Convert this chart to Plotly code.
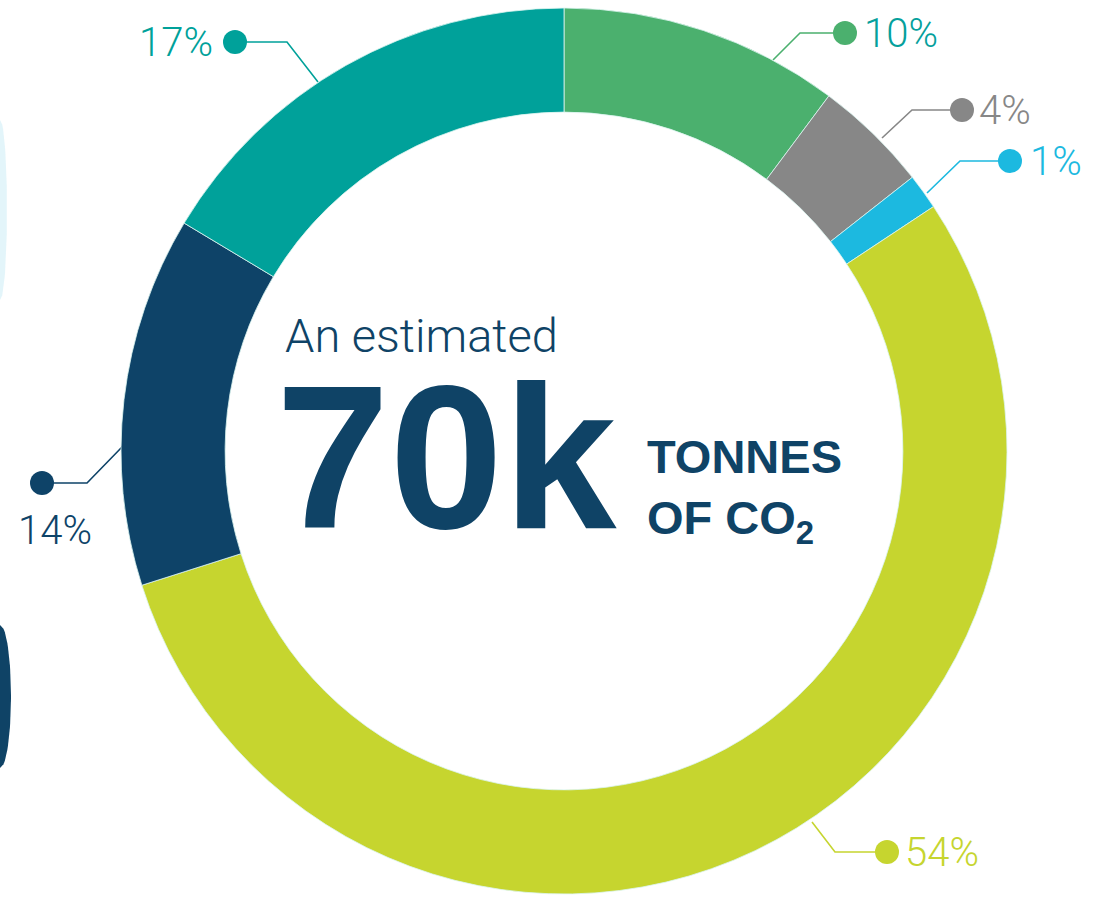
import numpy as np
import plotly.graph_objects as go

# ---- data ----
categories = ["Green", "Grey", "Light blue", "Lime", "Navy", "Teal"]
shares = [10.2, 4.2, 1.3, 54.4, 13.5, 16.4]          # slice sizes
pct_labels = ["10%", "4%", "1%", "54%", "14%", "17%"]  # printed labels
colors = ["#4BB06E", "#878787", "#1CB9E0", "#C6D52F", "#0E4368", "#00A19A"]
text_colors = ["#05A09C", "#878787", "#1CB9E0", "#C6D52F", "#0E4368", "#00A19A"]

W, H = 1095, 897
NAVY = "#0F4366"

# ---- label layout (pixel positions of leader lines / dots / text) ----
label_layout = {
    "10%": dict(path=[(773, 60), (800, 33), (845, 33)], text=(862, 33), anchor="left"),
    "4%": dict(path=[(882, 138), (912, 110), (962, 110)], text=(977, 110), anchor="left"),
    "1%": dict(path=[(927, 193), (960, 161), (1010, 161)], text=(1028, 161), anchor="left"),
    "54%": dict(path=[(812, 822), (835, 852), (887, 852)], text=(903, 852), anchor="left"),
    "14%": dict(path=[(122, 447), (87, 483), (42, 483)], text=(55, 530), anchor="center"),
    "17%": dict(path=[(318, 82), (287, 42), (235, 42)], text=(215, 42), anchor="right"),
}

cx, cy, R = 564, 451, 443
fig = go.Figure()

# decorative edge artwork (cropped neighbouring graphics at the left edge)
def edge_blob(y0, y1, depth):
    t = np.linspace(-1, 1, 40)
    ys = (y0 + y1) / 2 + t * (y1 - y0) / 2
    xs = depth * np.sqrt(np.clip(1 - t ** 2, 0, 1))
    return np.r_[xs, 0], np.r_[ys, ys[0]]

bx, by = edge_blob(625, 768, 11)
fig.add_trace(go.Scatter(x=bx, y=by, mode="lines", fill="toself", fillcolor=NAVY,
                         line=dict(width=0, color=NAVY), hoverinfo="skip", showlegend=False))
lx, ly = edge_blob(120, 300, 7)
fig.add_trace(go.Scatter(x=lx, y=ly, mode="lines", fill="toself",
                         fillcolor="rgba(175,225,240,0.35)", line=dict(width=0),
                         hoverinfo="skip", showlegend=False))

fig.add_trace(go.Pie(
    labels=categories, values=shares, sort=False, direction="clockwise", rotation=0,
    hole=0.765, marker=dict(colors=colors, line=dict(color="rgba(220,245,240,0.8)", width=1)),
    textinfo="none", hoverinfo="skip", showlegend=False,
    domain=dict(x=[(cx - R) / W, (cx + R) / W], y=[(H - cy - R) / H, (H - cy + R) / H]),
))

LIGHT = "Roboto"
for lab, col, tcol in zip(pct_labels, colors, text_colors):
    L = label_layout[lab]
    xs = [p[0] for p in L["path"]]
    ys = [p[1] for p in L["path"]]
    fig.add_trace(go.Scatter(x=xs, y=ys, mode="lines", line=dict(color=col, width=1.6),
                             hoverinfo="skip", showlegend=False))
    fig.add_trace(go.Scatter(x=[xs[-1]], y=[ys[-1]], mode="markers",
                             marker=dict(color=col, size=24), hoverinfo="skip", showlegend=False))
    fig.add_annotation(x=L["text"][0], y=L["text"][1], xref="x", yref="y", text=lab,
                       showarrow=False, xanchor=L["anchor"], yanchor="middle",
                       font=dict(family=LIGHT, size=40, color=tcol, weight=300))

# centre text
fig.add_annotation(x=283, y=335, xref="x", yref="y", text="An estimated", showarrow=False,
                   xanchor="left", yanchor="middle", height=48,
                   font=dict(family=LIGHT, size=47, color=NAVY, weight=300))
fig.add_annotation(x=274, y=456, xref="x", yref="y", text="<b>70k</b>", showarrow=False,
                   xanchor="left", yanchor="middle", height=165,
                   font=dict(family="Liberation Sans", size=204, color=NAVY))
fig.add_annotation(x=645, y=456, xref="x", yref="y", text="<b>TONNES</b>", showarrow=False,
                   xanchor="left", yanchor="middle",
                   font=dict(family="Liberation Sans", size=47, color=NAVY))
fig.add_annotation(x=645, y=521, xref="x", yref="y", text="<b>OF CO<sub>2</sub></b>", showarrow=False,
                   xanchor="left", yanchor="middle",
                   font=dict(family="Liberation Sans", size=47, color=NAVY))

fig.update_layout(
    width=W, height=H, margin=dict(l=0, r=0, t=0, b=0),
    paper_bgcolor="white", plot_bgcolor="rgba(0,0,0,0)",
    xaxis=dict(range=[0, W], visible=False, domain=[0, 1], fixedrange=True),
    yaxis=dict(range=[H, 0], visible=False, domain=[0, 1], fixedrange=True),
)
fig.write_html("out.html", config={"displayModeBar": False},
               post_script="document.body.style.margin='0';document.body.style.overflow='hidden';")
